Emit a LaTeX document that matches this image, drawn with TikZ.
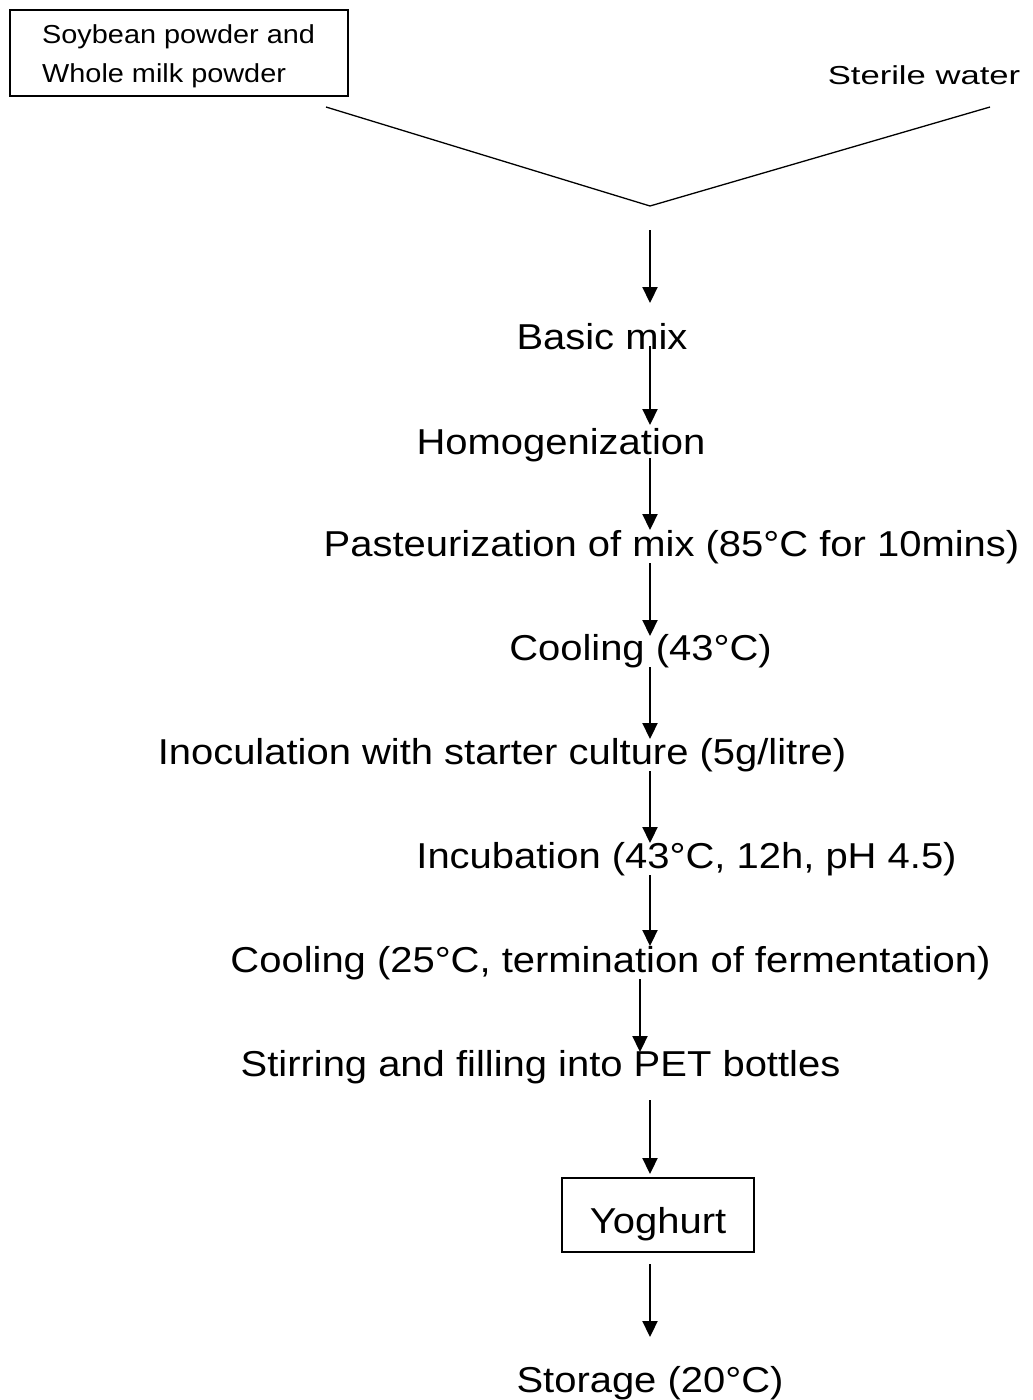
\documentclass[tikz,border=0pt]{standalone}
\usepackage{fontspec}
\setmainfont{Liberation Sans}[FakeStretch=1.11]
\usetikzlibrary{arrows.meta}
\begin{document}
\begin{tikzpicture}[x=1pt,y=-1pt,
  lbl/.style={anchor=base,inner sep=0pt,font=\fontsize{36}{40}\selectfont},
  small/.style={inner sep=0pt,font=\fontsize{26}{30}\selectfont},
  flow/.style={line width=2.2pt,-{Triangle[width=15pt,length=16pt]}},
  vline/.style={line width=1.3pt},
  boxed/.style={draw,line width=2.2pt}]
\useasboundingbox (0,0) rectangle (1033,1400);
% top inputs
\node[boxed,minimum width=338pt,minimum height=86pt,inner sep=0pt] (src) at (179,53) {};
\node[small,anchor=base west] (src1) at (42,43) {Soybean powder and};
\node[small,anchor=base west] (src2) at (42,82) {Whole milk powder};
\node[small,anchor=base] (water) at (924,84) {\scalebox{1.2}[1]{Sterile water}};
\coordinate (vl) at (326,107);
\coordinate (vr) at (990,107);
\coordinate (vm) at (650,206);
\draw[vline] (vl) -- (vm) -- (vr);
% labels
\node[lbl] (mix) at (602,349) {Basic mix};
\node[lbl] (homo) at (561,454) {Homogenization};
\node[lbl] (past) at (671.5,556) {Pasteurization of mix (85°C for 10mins)};
\node[lbl] (cool1) at (640.5,660) {Cooling (43°C)};
\node[lbl] (inoc) at (502,764) {Inoculation with starter culture (5g/litre)};
\node[lbl] (incu) at (686.5,868) {Incubation (43°C, 12h, pH 4.5)};
\node[lbl] (cool2) at (610.5,972) {Cooling (25°C, termination of fermentation)};
\node[lbl] (stir) at (540.5,1076) {Stirring and filling into PET bottles};
\node[boxed,minimum width=192pt,minimum height=74pt,inner sep=0pt] (yog) at (658,1215) {};
\node[lbl] (yogt) at (658,1233) {Yoghurt};
\node[lbl] (stor) at (650,1392) {Storage (20°C)};
% arrow end points
\coordinate (a0) at (650,230); \coordinate (b0) at (650,303);
\coordinate (a1) at (650,346); \coordinate (b1) at (650,425);
\coordinate (a2) at (650,458); \coordinate (b2) at (650,530);
\coordinate (a3) at (650,563); \coordinate (b3) at (650,636);
\coordinate (a4) at (650,667); \coordinate (b4) at (650,739);
\coordinate (a5) at (650,771); \coordinate (b5) at (650,843);
\coordinate (a6) at (650,875); \coordinate (b6) at (650,946);
\coordinate (a7) at (640,979); \coordinate (b7) at (640,1052);
\coordinate (a8) at (650,1100); \coordinate (b8) at (650,1174);
\coordinate (a9) at (650,1264); \coordinate (b9) at (650,1337);
\foreach \i in {0,...,9} {\draw[flow] (a\i) -- (b\i);}
\end{tikzpicture}
\end{document}
